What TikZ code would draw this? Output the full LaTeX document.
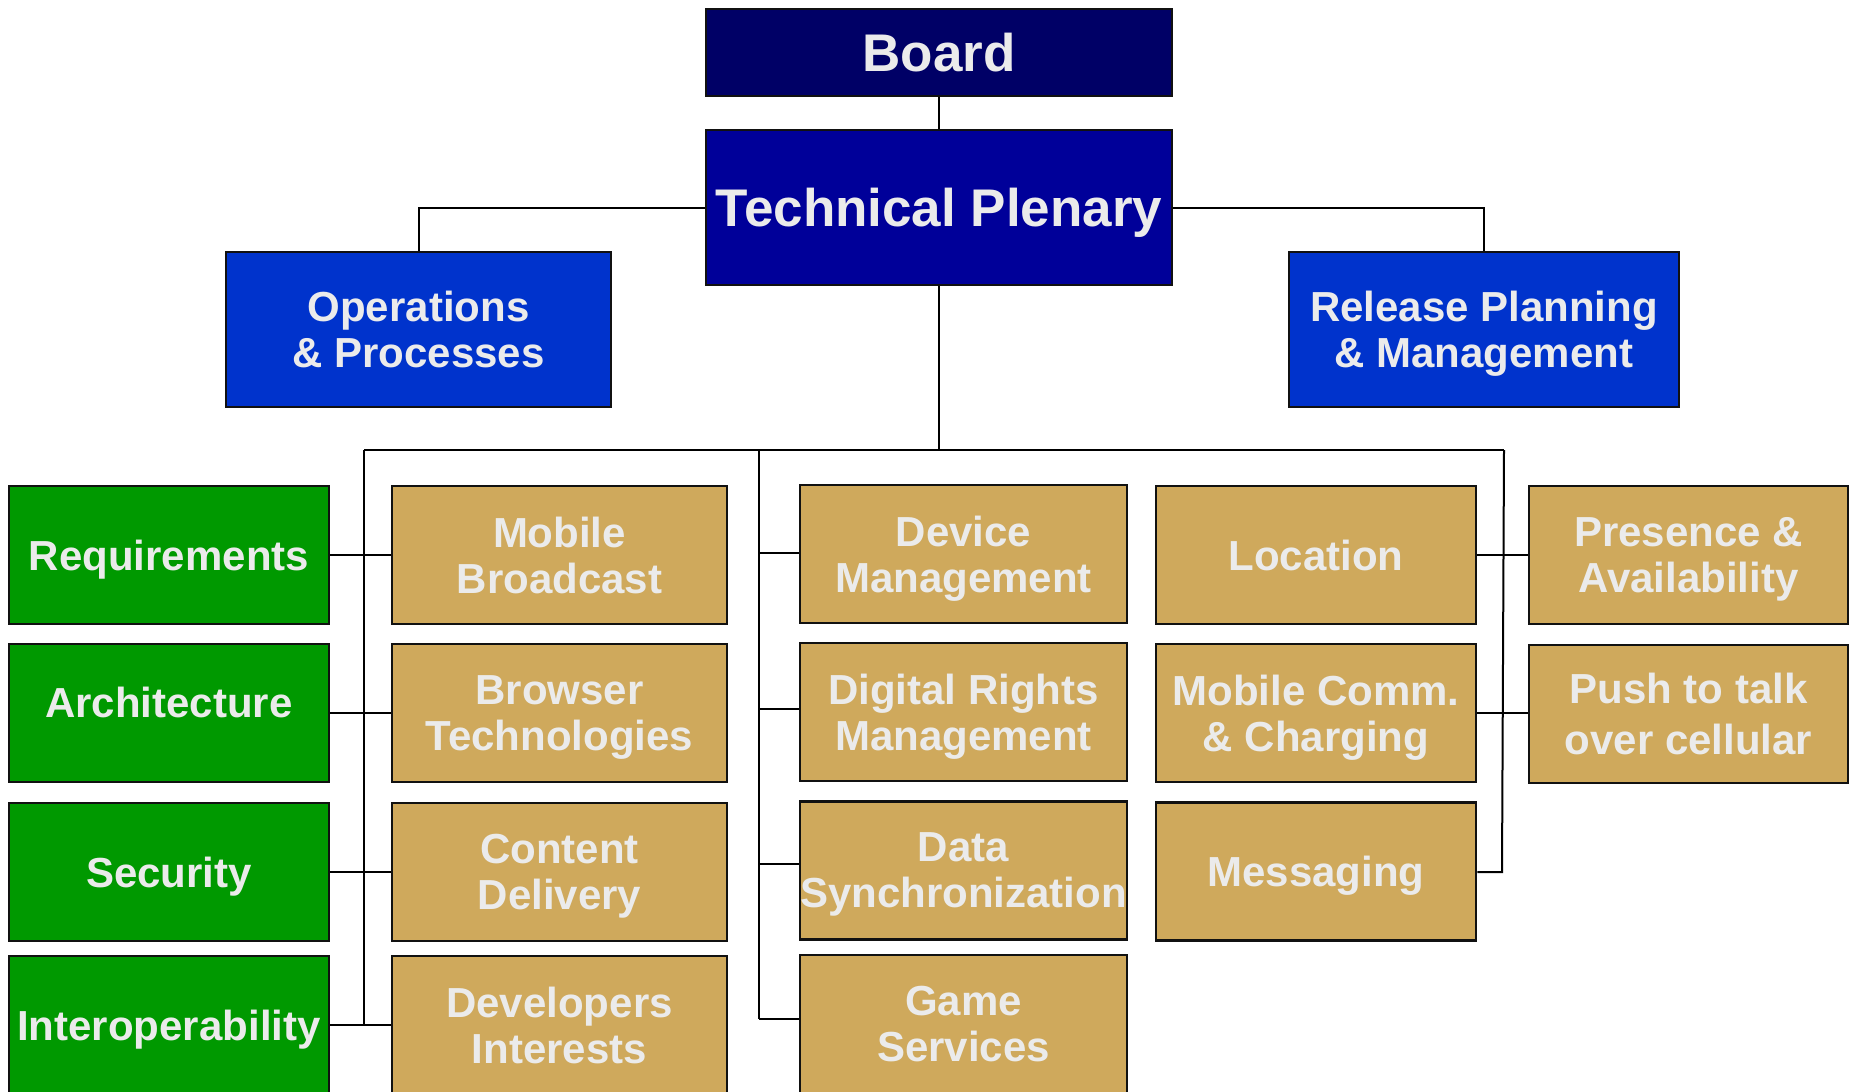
\documentclass[tikz,border=0pt]{standalone}
\usepackage{fontspec}
\setmainfont{Liberation Sans}
\definecolor{boardc}{HTML}{000066}
\definecolor{tpc}{HTML}{000099}
\definecolor{opsc}{HTML}{0033CC}
\definecolor{greenc}{HTML}{009900}
\definecolor{goldc}{HTML}{CFA95C}
\definecolor{txtc}{HTML}{EBEBEB}
\definecolor{edgec}{HTML}{111111}
\tikzset{
  box/.style={draw=edgec, line width=2.5pt, rectangle, inner sep=0pt, align=center,
    text depth=0pt, text=txtc, font=\bfseries\fontsize{42}{46}\selectfont},
  topbox/.style={box, font=\bfseries\fontsize{53}{60}\selectfont},
  greenbox/.style={box, fill=greenc, minimum width=320pt, minimum height=138pt},
  goldbox/.style={box, fill=goldc, minimum height=138pt},
  conn/.style={draw=black, line width=2pt}
}
\begin{document}
\begin{tikzpicture}[x=1pt,y=-1pt]
\useasboundingbox (0,0) rectangle (1853,1092);
% top
\node[topbox, fill=boardc, minimum width=466pt, minimum height=87pt] (board) at (939,52.5) {Board};
\node[topbox, fill=tpc, minimum width=466pt, minimum height=155pt] (tp) at (939,207.5) {Technical Plenary};
\node[box, fill=opsc, minimum width=385pt, minimum height=155pt] (ops) at (418.5,329.5) {Operations\\\& Processes};
\node[box, fill=opsc, minimum width=390pt, minimum height=155pt] (rel) at (1484,329.5) {Release Planning\\\& Management};
% green column
\node[greenbox] (req) at (169,555) {Requirements};
\node[greenbox, text depth=22pt] (arch) at (169,713) {Architecture};
\node[greenbox] (sec) at (169,872) {Security};
\node[greenbox] (inter) at (169,1025) {Interoperability};
% column 2
\node[goldbox, minimum width=335pt] (mb) at (559.5,555) {Mobile\\Broadcast};
\node[goldbox, minimum width=335pt] (bt) at (559.5,713) {Browser\\Technologies};
\node[goldbox, minimum width=335pt] (cd) at (559.5,872) {Content\\Delivery};
\node[goldbox, minimum width=335pt] (di) at (559.5,1025) {Developers\\Interests};
% column 3
\node[goldbox, minimum width=327pt] (dm) at (963.5,554) {Device\\Management};
\node[goldbox, minimum width=327pt] (drm) at (963.5,712) {Digital Rights\\Management};
\node[goldbox, minimum width=327pt] (ds) at (963.5,870.5) {Data\\Synchronization};
\node[goldbox, minimum width=327pt] (gs) at (963.5,1024) {Game\\Services};
% column 4
\node[goldbox, minimum width=320pt] (loc) at (1316,555) {Location};
\node[goldbox, minimum width=320pt] (mcc) at (1316,713) {Mobile Comm.\\\& Charging};
\node[goldbox, minimum width=320pt] (msg) at (1316,871.5) {Messaging};
% column 5
\node[goldbox, minimum width=319pt] (pa) at (1688.5,555) {Presence \&\\Availability};
\node[goldbox, minimum width=319pt, font=\bfseries\fontsize{42}{51}\selectfont] (ptt) at (1688.5,714) {Push to talk\\over cellular};
% bus coordinates
\coordinate (busc) at (939,450);
\coordinate (busl) at (364,450);
\coordinate (busm) at (759,450);
\coordinate (busr) at (1504,450);
\coordinate (vl) at (364,1025);
\coordinate (vm) at (759,1019);
\coordinate (vr) at (1502,872);
% connectors
\draw[conn] (board.south) -- (tp.north);
\draw[conn] (tp.west) -| (ops.north);
\draw[conn] (tp.east) -| (rel.north);
\draw[conn] (tp.south) -- (busc);
\draw[conn] (busl) -- (busr);
\draw[conn] (busl) -- (vl);
\draw[conn] (busm) -- (vm);
\draw[conn] (busr) -- (vr) -- (msg.east |- vr);
\draw[conn] (req.east) -- (mb.west);
\draw[conn] (arch.east) -- (bt.west);
\draw[conn] (sec.east) -- (cd.west);
\draw[conn] (inter.east) -- (di.west);
\draw[conn] (busm |- 0,553) -- (dm.west |- 0,553);
\draw[conn] (busm |- 0,709) -- (drm.west |- 0,709);
\draw[conn] (busm |- 0,864) -- (ds.west |- 0,864);
\draw[conn] (vm) -- (gs.west |- vm);
\draw[conn] (loc.east) -- (pa.west);
\draw[conn] (mcc.east) -- (ptt.west |- mcc.east);
\end{tikzpicture}
\end{document}
